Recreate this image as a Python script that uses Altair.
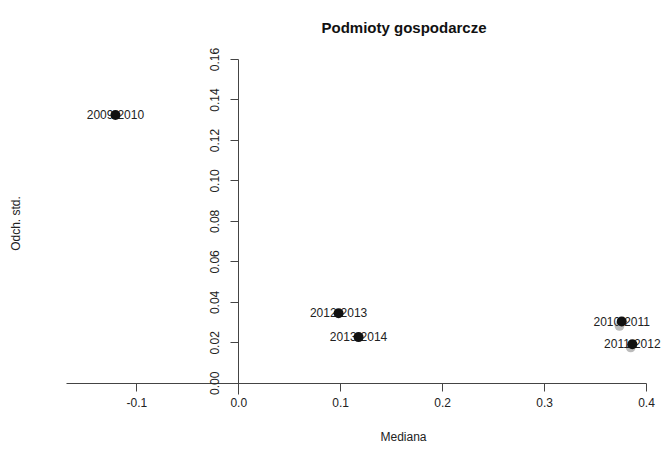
import altair as alt
import pandas as pd

labels = ["2009-2010", "2010-2011", "2011-2012", "2012-2013", "2013-2014"]
mediana = [-0.1205, 0.3762, 0.3866, 0.0984, 0.1180]
odch = [0.1323, 0.0303, 0.0191, 0.0344, 0.0226]

gray_mediana = [0.3740, 0.3850]
gray_odch = [0.0281, 0.0175]

y_ticks = [round(i * 0.01, 2) for i in range(17)]
x_ticks = [-0.1, 0.0, 0.1, 0.2, 0.3, 0.4]

df = pd.DataFrame({"label": labels, "x": mediana, "y": odch})
dg = pd.DataFrame({"x": gray_mediana, "y": gray_odch})

FONT = "Liberation Sans"
W, H = 580, 335
xdom = [-0.169, 0.4]
ydom = [-0.0055, 0.16]

xs = alt.Scale(domain=xdom, nice=False, zero=False)
ys = alt.Scale(domain=ydom, nice=False, zero=False)

x_off = -round(H * (0 - ydom[0]) / (ydom[1] - ydom[0]))
y_off = -round(W * (0 - xdom[0]) / (xdom[1] - xdom[0]))

xaxis = alt.Axis(
    values=x_ticks, grid=False, offset=x_off,
    labelExpr="datum.value < 0 ? '-' + format(-datum.value, '.1f') : format(datum.value, '.1f')",
    domainColor="#444", tickColor="#444", tickSize=8, labelPadding=6,
    labelFont=FONT, labelFontSize=12, labelColor="#222",
    title="Mediana", titleFont=FONT, titleFontSize=12, titleFontWeight="normal",
    titleColor="#222", titleX=337, titleY=53, titleAlign="center", titleBaseline="middle",
    labelFlush=False, labelOverlap=False,
)
yaxis = alt.Axis(
    values=y_ticks, grid=False, offset=y_off,
    labelExpr="round(datum.value*100) % 2 == 0 ? format(datum.value, '.2f') : ''",
    domainColor="#444", tickColor="#444", tickSize=8, labelPadding=12,
    labelAngle=-90, labelAlign="center", labelBaseline="alphabetic",
    labelFont=FONT, labelFontSize=12, labelColor="#222",
    title="Odch. std.", titleFont=FONT, titleFontSize=12, titleFontWeight="normal",
    titleColor="#222", titleX=-223, titleY=164, titleAngle=-90, titleAlign="center",
    titleBaseline="middle", labelFlush=False, labelOverlap=False,
)

gray = alt.Chart(dg).mark_circle(size=95, color="#bbbbbb", opacity=1).encode(
    x=alt.X("x:Q", scale=xs, axis=xaxis),
    y=alt.Y("y:Q", scale=ys, axis=yaxis),
)
pts = alt.Chart(df).mark_circle(size=100, color="#111111", opacity=1).encode(
    x=alt.X("x:Q", scale=xs),
    y=alt.Y("y:Q", scale=ys),
)
txt = alt.Chart(df).mark_text(font=FONT, fontSize=12, color="#222", align="center", baseline="middle").encode(
    x=alt.X("x:Q", scale=xs),
    y=alt.Y("y:Q", scale=ys),
    text="label:N",
)

chart = (gray + txt + pts).properties(
    width=W, height=H,
    background="white",
    title=alt.TitleParams("Podmioty gospodarcze", font=FONT, fontSize=15, fontWeight="bold",
                          color="#111", anchor="middle", dx=48, offset=11),
    autosize=alt.AutoSizeParams(type="none"),
    padding={"left": 66, "top": 59, "right": 662 - 66 - W, "bottom": 452 - 59 - H},
).configure_view(strokeWidth=0, stroke="transparent")

chart.save("out.html", embed_options={"renderer": "svg", "actions": False})
